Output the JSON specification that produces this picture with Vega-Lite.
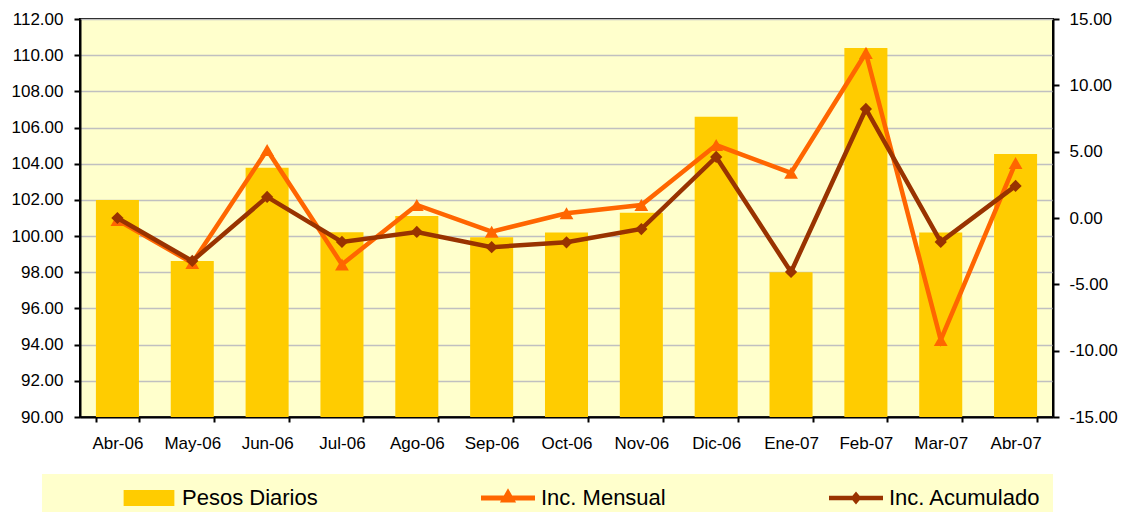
{
  "$schema": "https://vega.github.io/schema/vega-lite/v6.json",
  "width": 973,
  "height": 398,
  "autosize": {"type": "none"},
  "padding": {"left": 80, "top": 19, "right": 74, "bottom": 95},
  "background": "white",
  "config": {
    "view": {"fill": "#FFFFCC", "stroke": "black", "strokeWidth": 2},
    "font": "Liberation Sans",
    "axis": {"labelFont": "Liberation Sans", "labelColor": "black", "domainColor": "black", "domainWidth": 2, "tickColor": "black", "tickWidth": 2, "title": null},
    "legend": {
      "orient": "none",
      "legendX": -38,
      "legendY": 455,
      "direction": "horizontal",
      "fillColor": "#FFFFCC",
      "padding": 12,
      "symbolSize": 2916,
      "clipHeight": 24,
      "symbolOffset": 68,
      "labelOffset": 6,
      "columnPadding": 95,
      "labelFont": "Liberation Sans",
      "labelFontSize": 22,
      "labelColor": "black",
      "labelLimit": 300,
      "symbolStrokeWidth": 0,
      "symbolOpacity": 1
    }
  },
  "data": {
    "values": [
      {"mes": "Abr-06", "serie": "Pesos Diarios", "valor": 102.0},
      {"mes": "May-06", "serie": "Pesos Diarios", "valor": 98.62},
      {"mes": "Jun-06", "serie": "Pesos Diarios", "valor": 103.78},
      {"mes": "Jul-06", "serie": "Pesos Diarios", "valor": 100.21},
      {"mes": "Ago-06", "serie": "Pesos Diarios", "valor": 101.11},
      {"mes": "Sep-06", "serie": "Pesos Diarios", "valor": 99.93},
      {"mes": "Oct-06", "serie": "Pesos Diarios", "valor": 100.2},
      {"mes": "Nov-06", "serie": "Pesos Diarios", "valor": 101.29},
      {"mes": "Dic-06", "serie": "Pesos Diarios", "valor": 106.6},
      {"mes": "Ene-07", "serie": "Pesos Diarios", "valor": 98.0},
      {"mes": "Feb-07", "serie": "Pesos Diarios", "valor": 110.4},
      {"mes": "Mar-07", "serie": "Pesos Diarios", "valor": 100.2},
      {"mes": "Abr-07", "serie": "Pesos Diarios", "valor": 104.54},
      {"mes": "Abr-06", "serie": "Inc. Mensual", "valor": -0.15},
      {"mes": "May-06", "serie": "Inc. Mensual", "valor": -3.39},
      {"mes": "Jun-06", "serie": "Inc. Mensual", "valor": 5.13},
      {"mes": "Jul-06", "serie": "Inc. Mensual", "valor": -3.5},
      {"mes": "Ago-06", "serie": "Inc. Mensual", "valor": 0.98},
      {"mes": "Sep-06", "serie": "Inc. Mensual", "valor": -1.03},
      {"mes": "Oct-06", "serie": "Inc. Mensual", "valor": 0.36},
      {"mes": "Nov-06", "serie": "Inc. Mensual", "valor": 0.98},
      {"mes": "Dic-06", "serie": "Inc. Mensual", "valor": 5.5},
      {"mes": "Ene-07", "serie": "Inc. Mensual", "valor": 3.4},
      {"mes": "Feb-07", "serie": "Inc. Mensual", "valor": 12.44},
      {"mes": "Mar-07", "serie": "Inc. Mensual", "valor": -9.19},
      {"mes": "Abr-07", "serie": "Inc. Mensual", "valor": 4.15},
      {"mes": "Abr-06", "serie": "Inc. Acumulado", "valor": 0.0},
      {"mes": "May-06", "serie": "Inc. Acumulado", "valor": -3.24},
      {"mes": "Jun-06", "serie": "Inc. Acumulado", "valor": 1.59},
      {"mes": "Jul-06", "serie": "Inc. Acumulado", "valor": -1.8},
      {"mes": "Ago-06", "serie": "Inc. Acumulado", "valor": -1.05},
      {"mes": "Sep-06", "serie": "Inc. Acumulado", "valor": -2.2},
      {"mes": "Oct-06", "serie": "Inc. Acumulado", "valor": -1.83},
      {"mes": "Nov-06", "serie": "Inc. Acumulado", "valor": -0.83},
      {"mes": "Dic-06", "serie": "Inc. Acumulado", "valor": 4.6},
      {"mes": "Ene-07", "serie": "Inc. Acumulado", "valor": -4.07},
      {"mes": "Feb-07", "serie": "Inc. Acumulado", "valor": 8.22},
      {"mes": "Mar-07", "serie": "Inc. Acumulado", "valor": -1.8},
      {"mes": "Abr-07", "serie": "Inc. Acumulado", "valor": 2.42}
    ]
  },
  "encoding": {
    "x": {
      "field": "mes",
      "type": "nominal",
      "sort": ["Abr-06", "May-06", "Jun-06", "Jul-06", "Ago-06", "Sep-06", "Oct-06", "Nov-06", "Dic-06", "Ene-07", "Feb-07", "Mar-07", "Abr-07"],
      "scale": {"paddingInner": 0.425, "paddingOuter": 0.2125},
      "axis": {"labelAngle": 0, "labelFontSize": 17, "labelPadding": 13, "tickBand": "extent", "tickSize": 5, "grid": false}
    }
  },
  "layer": [
    {
      "transform": [{"filter": "datum.serie === 'Pesos Diarios'"}],
      "mark": {"type": "bar", "color": "#FFCC00", "clip": true},
      "encoding": {
        "y": {
          "field": "valor",
          "type": "quantitative",
          "scale": {"domain": [90, 112], "nice": false, "zero": false},
          "axis": {"orient": "left", "values": [90, 92, 94, 96, 98, 100, 102, 104, 106, 108, 110, 112], "format": ".2f", "labelFontSize": 17, "labelPadding": 11, "tickSize": 6, "grid": true, "gridColor": "#C0C0C0", "gridWidth": 1.5}
        }
      }
    },
    {
      "layer": [
        {
          "transform": [{"filter": "datum.serie === 'Inc. Mensual'"}],
          "mark": {"type": "line", "color": "#FF6600", "strokeWidth": 4.5, "point": {"shape": "triangle-up", "size": 190, "filled": true, "color": "#FF6600", "opacity": 1}},
          "encoding": {
            "y": {
              "field": "valor",
              "type": "quantitative",
              "scale": {"domain": [-15, 15], "nice": false, "zero": false},
              "axis": {"orient": "right", "values": [-15, -10, -5, 0, 5, 10, 15], "format": ".2f", "labelExpr": "replace(datum.label, '\u2212', '-')", "labelFontSize": 17, "labelPadding": 10, "tickSize": 6, "grid": false}
            }
          }
        },
        {
          "transform": [{"filter": "datum.serie === 'Inc. Acumulado'"}],
          "mark": {"type": "line", "color": "#993300", "strokeWidth": 4.5, "point": {"shape": "diamond", "size": 150, "filled": true, "color": "#993300", "opacity": 1}},
          "encoding": {
            "y": {"field": "valor", "type": "quantitative"}
          }
        },
        {
          "mark": {"type": "point", "filled": true, "opacity": 0},
          "encoding": {
            "color": {
              "field": "serie",
              "type": "nominal",
              "scale": {"domain": ["Pesos Diarios", "Inc. Mensual", "Inc. Acumulado"], "range": ["#FFCC00", "#FF6600", "#993300"]},
              "legend": {"title": null}
            },
            "shape": {
              "field": "serie",
              "type": "nominal",
              "scale": {"domain": ["Pesos Diarios", "Inc. Mensual", "Inc. Acumulado"], "range": [
                "M-0.94,-0.3H0.94V0.3H-0.94Z",
                "M-1,-0.09H1V0.09H-1Z M0,-0.36L0.3,0.17H-0.3Z",
                "M-1,-0.087H1V0.087H-1Z M0,-0.24L0.2,0L0,0.24L-0.2,0Z"
              ]},
              "legend": {"title": null}
            }
          }
        }
      ]
    }
  ],
  "resolve": {"scale": {"y": "independent"}}
}
